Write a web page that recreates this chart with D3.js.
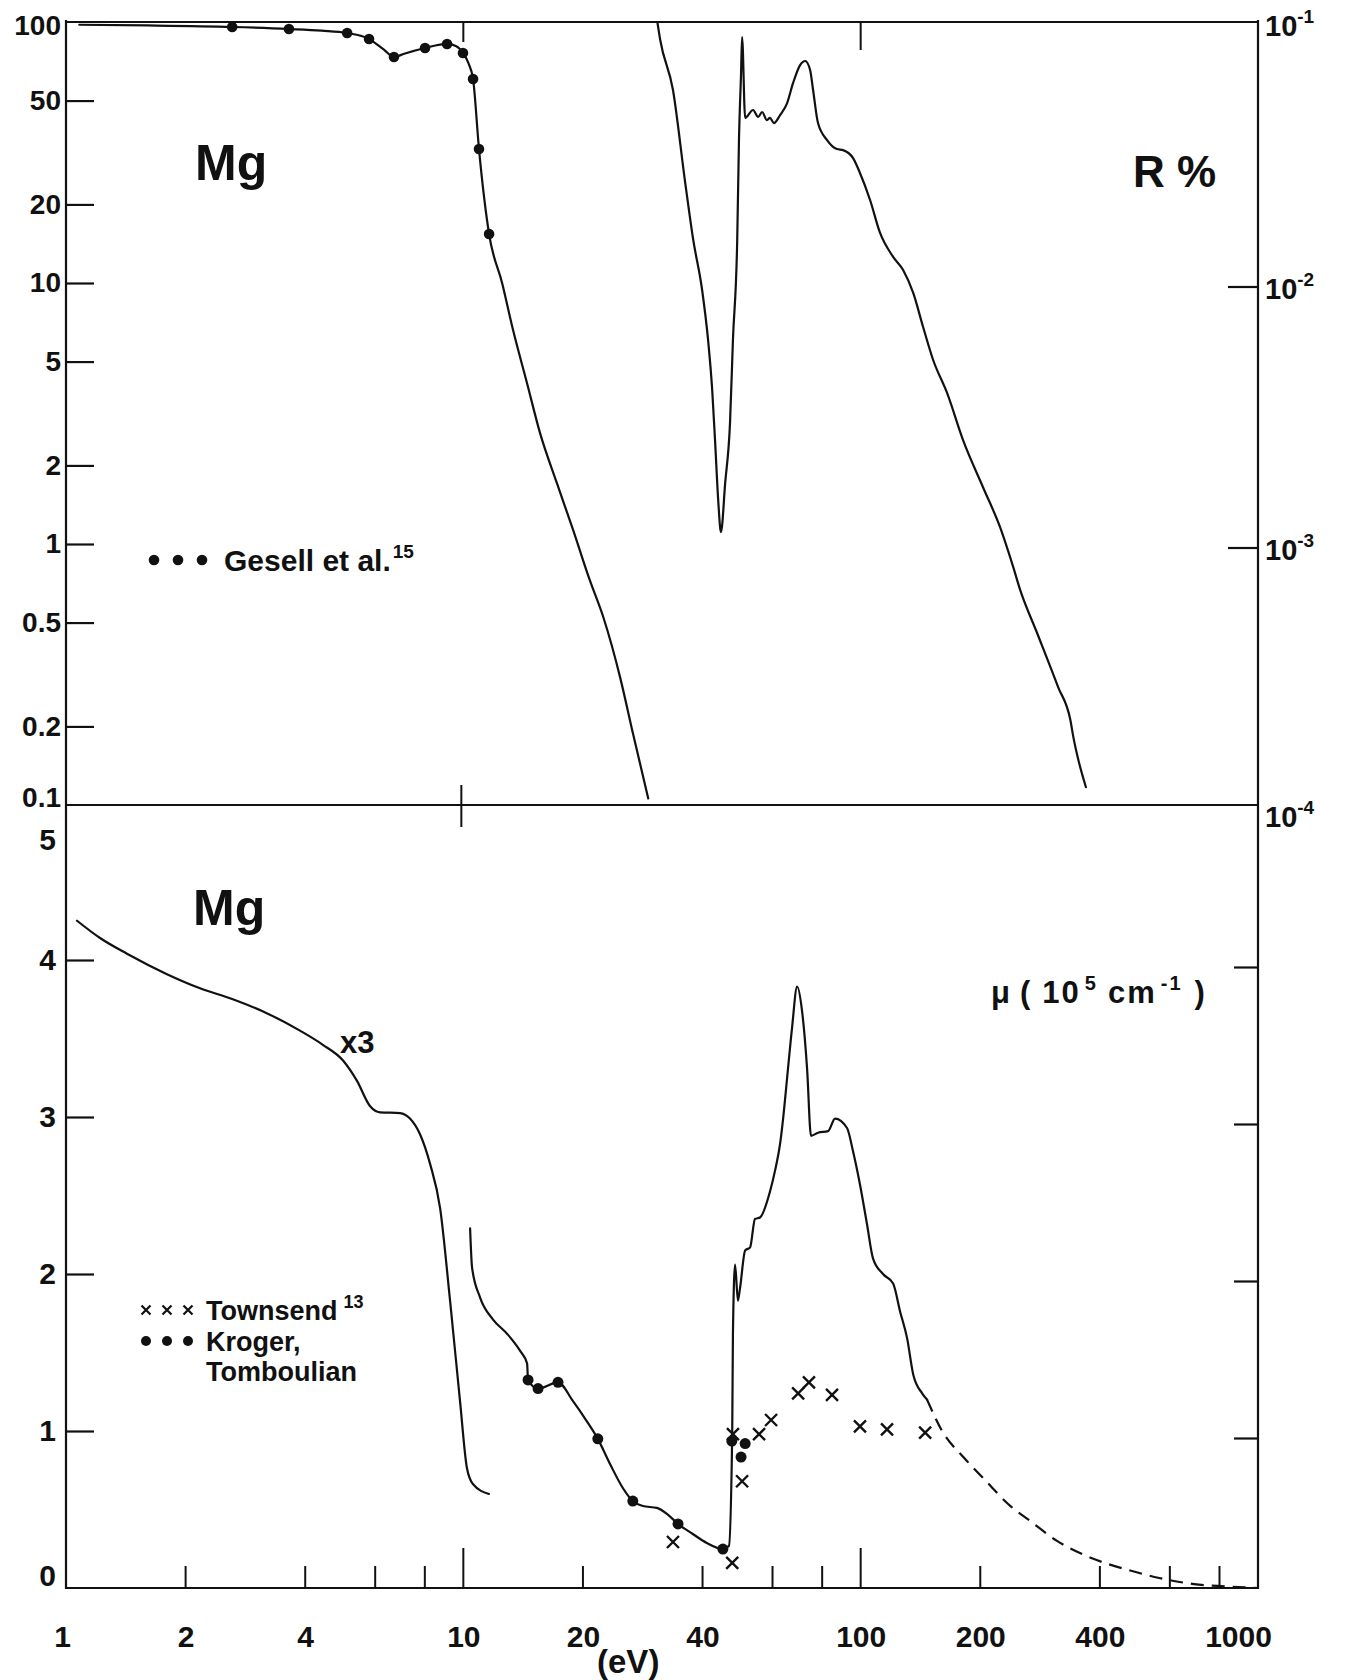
<!DOCTYPE html>
<html>
<head>
<meta charset="utf-8">
<script src="https://cdn.jsdelivr.net/npm/d3@7"></script>
<style>
  body { margin: 0; background: #fff; }
  svg { display: block; }
  text { font-family: "Liberation Sans", Arial, sans-serif; font-weight: bold; fill: #111; }
</style>
</head>
<body>
<svg id="chart" width="1351" height="1680"></svg>
<script>
// ---- axis ticks and labels ----
const energyLabels = [1, 2, 4, 10, 20, 40, 100, 200, 400, 1000];
const energyTicks = [2, 4, 6, 8, 10, 20, 40, 60, 80, 100, 200, 400, 600, 800];
const reflTicks = [100, 50, 20, 10, 5, 2, 1, 0.5, 0.2, 0.1];
const reflRightTicks = [1e-1, 1e-2, 1e-3, 1e-4];
const reflRightExp = ["-1", "-2", "-3", "-4"];
const muTicks = [0, 1, 2, 3, 4, 5];

// ---- reflectance R (%), left scale: [eV, R] ----
const reflLow = [
  [1.08, 97.6], [1.6, 97.0], [2.62, 95.7], [3.64, 94.0], [4.4, 92.6], [5.10, 90.7],
  [5.79, 86.1], [6.3, 78.5], [6.69, 73.4], [7.1, 75.6], [8.01, 79.5], [9.10, 82.4],
  [9.6, 80.8], [9.98, 76.1], [10.3, 69.5], [10.58, 60.5], [10.95, 32.6], [11.61, 15.4],
  [12.52, 10.0], [13.34, 6.6], [14.46, 4.14], [15.6, 2.66], [17.2, 1.71], [18.9, 1.13],
  [20.8, 0.728], [22.5, 0.525], [24.8, 0.309], [26.7, 0.189], [29.2, 0.106]
];
// Gesell et al. measured points
const gesellPoints = [
  [2.62, 95.7], [3.64, 94.0], [5.10, 90.7], [5.79, 86.1], [6.69, 73.4], [8.01, 79.5],
  [9.10, 82.4], [9.98, 76.1], [10.58, 60.5], [10.95, 32.6], [11.61, 15.4]
];
// ---- reflectance beyond 30 eV, right scale: [eV, R] ----
const reflHigh = [
  [30.8, 0.0995], [31.3, 0.0853], [33.7, 0.0549], [36.1, 0.0248], [37.9, 0.01462],
  [39.9, 0.0094], [41.3, 0.00605], [42.3, 0.00389], [43.0, 0.0025], [43.8, 0.00147],
  [44.5, 0.00111], [45.6, 0.00171], [46.9, 0.00291], [47.7, 0.00605], [48.9, 0.01462],
  [49.4, 0.0353], [50.0, 0.0638], [50.3, 0.0876], [51.2, 0.0429], [53.6, 0.046],
  [55.2, 0.0433], [56.5, 0.0452], [58.1, 0.0421], [59.1, 0.0429], [60.5, 0.041],
  [62.7, 0.044], [65.3, 0.0489], [67.6, 0.0584], [70.4, 0.0684], [72.5, 0.0709],
  [74.6, 0.0655], [75.9, 0.0549], [78.1, 0.041], [82.3, 0.0353], [87.2, 0.0326],
  [90.3, 0.0323], [95.7, 0.0301], [99.6, 0.0264], [105.6, 0.0208], [111.9, 0.01555],
  [120.7, 0.01259], [127.9, 0.01122], [135.6, 0.00916], [143.6, 0.00678], [152.2, 0.00507],
  [165.0, 0.00379], [181.0, 0.0025], [203.2, 0.00165], [224.3, 0.00116], [242.0, 0.000817],
  [252, 0.000667], [278, 0.000456], [314, 0.000283], [337, 0.000212], [343, 0.000182],
  [353, 0.000149], [369, 0.000117]
];

// ---- absorption coefficient mu (10^5 cm^-1): [eV, mu] ----
// low-energy branch, plotted x3
const muLow = [
  [1.066, 4.25], [1.218, 4.14], [1.424, 4.04], [1.795, 3.91], [2.175, 3.82], [2.63, 3.75],
  [3.21, 3.66], [3.88, 3.55], [4.43, 3.46], [4.98, 3.36], [5.40, 3.23], [5.82, 3.07],
  [6.17, 3.03], [6.93, 3.025], [7.34, 2.99], [7.78, 2.89], [8.25, 2.70], [8.74, 2.42],
  [9.26, 1.83], [9.81, 1.19], [10.21, 0.764], [10.57, 0.662], [11.6, 0.599]
];
const muMid = [
  [10.40, 2.29], [10.52, 2.04], [11.02, 1.85], [11.88, 1.71], [12.88, 1.62], [13.9, 1.51],
  [14.47, 1.43], [14.55, 1.325], [15.42, 1.27], [17.31, 1.31], [18.88, 1.19], [20.48, 1.06],
  [21.8, 0.95], [23.4, 0.79], [25.2, 0.637], [26.7, 0.554], [28.3, 0.522], [30.7, 0.51],
  [32.6, 0.471], [34.7, 0.408], [37.8, 0.344], [41.0, 0.287], [45.0, 0.248], [46.6, 0.268],
  [47.5, 0.98], [47.7, 1.62], [48.3, 2.06], [49.1, 1.83], [49.7, 1.91], [51.2, 2.15],
  [52.7, 2.17], [54.2, 2.35], [55.8, 2.36], [59.2, 2.53], [60.9, 2.66], [62.7, 2.83],
  [63.8, 2.99], [65.3, 3.25], [67.2, 3.57], [69.2, 3.83], [71.2, 3.675], [73.3, 3.31],
  [75.0, 2.88], [78.1, 2.90], [82.8, 2.91], [86.2, 2.99], [92.4, 2.93], [95.7, 2.78],
  [99.6, 2.57], [103.7, 2.32], [107.4, 2.10], [113.8, 2.0], [120.7, 1.94], [125.7, 1.76],
  [130.9, 1.59], [135.6, 1.36], [142.8, 1.24], [146.9, 1.20]
];
// extrapolated tail
const muTail = [
  [146.9, 1.20], [160.3, 1.0], [182, 0.83], [207, 0.68], [235, 0.535], [267, 0.427],
  [312, 0.30], [382, 0.19], [471, 0.115], [564, 0.064], [690, 0.025], [891, 0.006], [1000, 0]
];
const krogerPoints = [
  [14.55, 1.325], [15.42, 1.27], [17.31, 1.31], [21.8, 0.95], [26.7, 0.554], [34.7, 0.408],
  [45.0, 0.248], [47.4, 0.936], [51.2, 0.92], [50.0, 0.834]
];
const townsendPoints = [
  [33.7, 0.293], [47.5, 0.16], [47.7, 0.98], [50.3, 0.68], [55.5, 0.98], [59.5, 1.07],
  [69.6, 1.24], [74.1, 1.31], [84.7, 1.23], [99.6, 1.03], [116.5, 1.01], [145.3, 0.99]
];

// ---- layout ----
const X0 = 66, X1 = 1258;
const yTop = 22, yMid = 805, yBot = 1588;
const ink = "#111";
const fontStack = '"Liberation Sans", Arial, sans-serif';

const svg = d3.select("#chart");

const x = d3.scaleLog().domain([1, 1000]).range([X0, X1]);
const yR = d3.scaleLog().domain([0.1, 100]).range([yMid, yTop]);
const yRr = d3.scaleLog().domain([1e-4, 1e-1]).range([yMid, yTop]);
const yMu = d3.scaleLinear().domain([0, 5]).range([yBot, yBot - 5 * 157]);

// ---- frame ----
const frame = svg.append("g").attr("stroke", ink).attr("stroke-width", 2.2).attr("fill", "none");
frame.append("line").attr("x1", X0).attr("x2", X1).attr("y1", yTop).attr("y2", yTop);
frame.append("line").attr("x1", X0).attr("x2", X1).attr("y1", yMid).attr("y2", yMid);
frame.append("line").attr("x1", X0).attr("x2", X1).attr("y1", yBot).attr("y2", yBot);
frame.append("line").attr("x1", X0).attr("x2", X0).attr("y1", yTop - 2).attr("y2", yBot + 1);
frame.append("line").attr("x1", X1).attr("x2", X1).attr("y1", yTop - 2).attr("y2", yBot + 1);

function styleAxis(g, size) {
  g.select(".domain").remove();
  g.selectAll(".tick line").attr("stroke", ink).attr("stroke-width", 2.2);
  g.selectAll(".tick text")
    .attr("fill", ink)
    .style("font-family", fontStack)
    .style("font-weight", "bold")
    .style("font-size", size + "px");
}

// ---- top panel: left reflectance axis ----
const gRefl = svg.append("g")
  .attr("transform", `translate(${X0},0)`)
  .call(d3.axisLeft(yR).tickValues(reflTicks).tickSize(-28).tickPadding(5).tickFormat(d => String(d)));
styleAxis(gRefl, 28);
gRefl.selectAll(".tick").filter(d => d === 100 || d === 0.1).select("line").remove();
gRefl.selectAll(".tick text").filter(d => d === 100).attr("dy", "0.45em");
gRefl.selectAll(".tick text").filter(d => d === 0.1).attr("dy", "0.05em");

// right reflectance axis (ticks drawn slightly lower, following the hand-drawn frame)
const gReflR = svg.append("g").attr("transform", "translate(0,4)");
gReflR.selectAll("line.rt").data(reflRightTicks.filter(d => d < 0.1 && d > 1e-4))
  .join("line").attr("class", "rt")
  .attr("x1", X1 - 30).attr("x2", X1)
  .attr("y1", d => yRr(d)).attr("y2", d => yRr(d))
  .attr("stroke", ink).attr("stroke-width", 2.2);
const rLab = gReflR.selectAll("text").data(reflRightTicks).join("text")
  .attr("x", X1 + 7)
  .attr("y", (d, i) => yRr(d) + (i === 0 ? 10 : i === 3 ? 18 : 12))
  .style("font-size", "29px");
rLab.append("tspan").text("10");
rLab.append("tspan").attr("dy", -13).style("font-size", "19px").text((d, i) => reflRightExp[i]);

// ticks on the top border and the panel divider
svg.append("line").attr("x1", x(10)).attr("x2", x(10)).attr("y1", yTop).attr("y2", yTop + 20)
  .attr("stroke", ink).attr("stroke-width", 2);
svg.append("line").attr("x1", x(100)).attr("x2", x(100)).attr("y1", yTop).attr("y2", yTop + 28)
  .attr("stroke", ink).attr("stroke-width", 2);
svg.append("line").attr("x1", x(10) - 2).attr("x2", x(10) - 2).attr("y1", yMid - 20).attr("y2", yMid + 22)
  .attr("stroke", ink).attr("stroke-width", 2);

// ---- bottom panel: mu axis ----
const gMu = svg.append("g")
  .attr("transform", `translate(${X0},0)`)
  .call(d3.axisLeft(yMu).tickValues(muTicks).tickSize(-28).tickPadding(10).tickFormat(d => String(d)));
styleAxis(gMu, 30);
gMu.selectAll(".tick").filter(d => d === 0 || d === 5).select("line").remove();
gMu.selectAll(".tick text").filter(d => d === 5).attr("dy", "1.55em");
gMu.selectAll(".tick text").filter(d => d === 0).attr("dy", "-0.1em");

const gMuR = svg.append("g")
  .attr("transform", `translate(${X1},7)`)
  .call(d3.axisRight(yMu).tickValues(muTicks.filter(d => d > 0 && d < 5)).tickSize(-24).tickFormat(""));
styleAxis(gMuR, 10);

// ---- energy axis ----
const tickLen = d => (d === 10 || d === 100) ? 40 : 22;
svg.append("g").selectAll("line").data(energyTicks).join("line")
  .attr("x1", d => x(d)).attr("x2", d => x(d))
  .attr("y1", yBot).attr("y2", d => yBot - tickLen(d))
  .attr("stroke", ink).attr("stroke-width", 2);

const gX = svg.append("g")
  .attr("transform", `translate(0,${yBot})`)
  .call(d3.axisBottom(x).tickValues(energyLabels).tickSize(0).tickPadding(38).tickFormat(d => String(d)));
styleAxis(gX, 30);
gX.selectAll(".tick text").filter(d => d === 1000).attr("dx", -20);
gX.selectAll(".tick text").filter(d => d === 1).attr("dx", -4);

svg.append("text").attr("x", x(26)).attr("y", 1673).attr("text-anchor", "middle")
  .style("font-size", "33px").text("(eV)");

// ---- curves ----
const lineR = d3.line().x(d => x(d[0])).y(d => yR(d[1])).curve(d3.curveMonotoneX);
const lineRr = d3.line().x(d => x(d[0])).y(d => yRr(d[1])).curve(d3.curveMonotoneX);
const lineMu = d3.line().x(d => x(d[0])).y(d => yMu(d[1])).curve(d3.curveMonotoneX);

const curves = svg.append("g").attr("fill", "none").attr("stroke", ink)
  .attr("stroke-width", 2.2).attr("stroke-linejoin", "round").attr("stroke-linecap", "round");
curves.append("path").attr("d", lineR(reflLow));
curves.append("path").attr("d", lineRr(reflHigh));
curves.append("path").attr("d", lineMu(muLow));
curves.append("path").attr("d", lineMu(muMid));
curves.append("path").attr("d", lineMu(muTail)).attr("stroke-dasharray", "13 8").attr("stroke-linecap", "butt");

// ---- measured points ----
svg.append("g").selectAll("circle").data(gesellPoints).join("circle")
  .attr("cx", d => x(d[0])).attr("cy", d => yR(d[1])).attr("r", 5.3).attr("fill", ink);

svg.append("g").selectAll("circle").data(krogerPoints).join("circle")
  .attr("cx", d => x(d[0])).attr("cy", d => yMu(d[1])).attr("r", 5.5).attr("fill", ink);

const crossPath = (cx, cy, h) => `M${cx - h},${cy - h}L${cx + h},${cy + h}M${cx - h},${cy + h}L${cx + h},${cy - h}`;
svg.append("g").selectAll("path").data(townsendPoints).join("path")
  .attr("d", d => crossPath(x(d[0]), yMu(d[1]), 6))
  .attr("stroke", ink).attr("stroke-width", 2.4).attr("fill", "none");

// ---- labels ----
svg.append("text").attr("x", 195).attr("y", 180).style("font-size", "50px").text("Mg");
svg.append("text").attr("x", 193).attr("y", 925).style("font-size", "50px").text("Mg");
svg.append("text").attr("x", 1133).attr("y", 187).style("font-size", "44px").text("R %");
svg.append("text").attr("x", 340).attr("y", 1053).style("font-size", "31px").text("x3");

const muLab = svg.append("text").attr("x", 991).attr("y", 1003)
  .style("font-size", "31px").style("letter-spacing", "2px");
muLab.append("tspan").text("μ");
muLab.append("tspan").attr("dx", 8).text("(");
muLab.append("tspan").attr("dx", 10).text("10");
muLab.append("tspan").attr("dx", 4).attr("dy", -13).style("font-size", "20px").text("5");
muLab.append("tspan").attr("dx", 10).attr("dy", 13).text("cm");
muLab.append("tspan").attr("dx", 4).attr("dy", -13).style("font-size", "20px").text("-1");
muLab.append("tspan").attr("dx", 12).attr("dy", 13).text(")");

// legend, top panel
const legTop = svg.append("g");
legTop.selectAll("circle").data([0, 1, 2]).join("circle")
  .attr("cx", d => 154 + d * 24).attr("cy", 560).attr("r", 5.3).attr("fill", ink);
const gesLab = legTop.append("text").attr("x", 224).attr("y", 571).style("font-size", "30px");
gesLab.append("tspan").text("Gesell et al.");
gesLab.append("tspan").attr("dx", 2).attr("dy", -13).style("font-size", "19px").text("15");

// legend, bottom panel
const legBot = svg.append("g");
legBot.selectAll("path").data([0, 1, 2]).join("path")
  .attr("d", d => crossPath(146 + d * 21, 1310, 4.5))
  .attr("stroke", ink).attr("stroke-width", 2.2).attr("fill", "none");
const townLab = legBot.append("text").attr("x", 206).attr("y", 1320).style("font-size", "27px");
townLab.append("tspan").text("Townsend");
townLab.append("tspan").attr("dx", 6).attr("dy", -12).style("font-size", "18px").text("13");
legBot.selectAll("circle").data([0, 1, 2]).join("circle")
  .attr("cx", d => 146 + d * 21).attr("cy", 1341).attr("r", 5).attr("fill", ink);
legBot.append("text").attr("x", 206).attr("y", 1351).style("font-size", "27px").text("Kroger,");
legBot.append("text").attr("x", 206).attr("y", 1381).style("font-size", "27px").text("Tomboulian");
</script>
</body>
</html>
